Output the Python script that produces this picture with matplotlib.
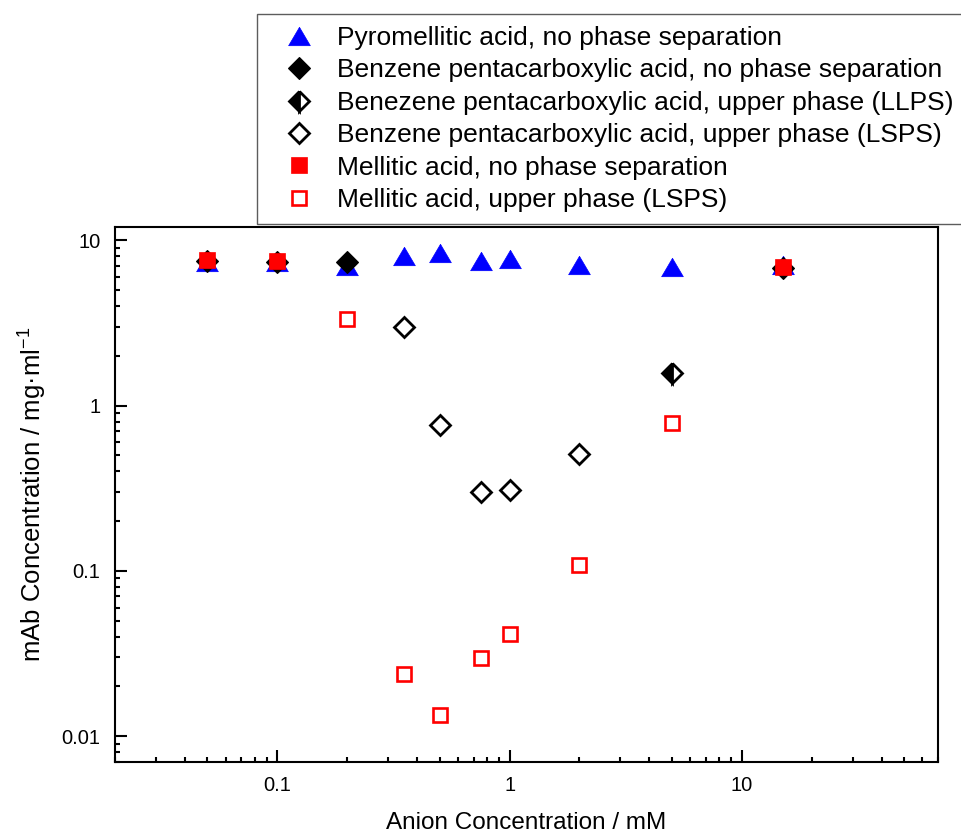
import matplotlib.pyplot as plt

plt.rcParams["font.family"] = ["Liberation Sans", "DejaVu Sans"]
plt.rcParams["mathtext.fontset"] = "custom"
plt.rcParams["mathtext.rm"] = "Liberation Sans"

# anion concentration (mM) and mAb concentration (mg/ml) per series
pyro_x = [0.05, 0.1, 0.2, 0.35, 0.5, 0.75, 1, 2, 5, 15]
pyro_y = [7.4, 7.4, 7.0, 8.1, 8.35, 7.5, 7.7, 7.06, 6.9, 7.1]

penta_none_x = [0.05, 0.1, 0.2, 15]
penta_none_y = [7.5, 7.45, 7.45, 6.8]

penta_llps_x = [5]
penta_llps_y = [1.58]

penta_lsps_x = [0.35, 0.5, 0.75, 1, 2]
penta_lsps_y = [3.01, 0.76, 0.30, 0.31, 0.507]

mell_none_x = [0.05, 0.1, 15]
mell_none_y = [7.6, 7.5, 6.95]

mell_lsps_x = [0.2, 0.35, 0.5, 0.75, 1, 2, 5]
mell_lsps_y = [3.33, 0.0239, 0.0135, 0.0295, 0.0412, 0.108, 0.79]

labels = [
    "Pyromellitic acid, no phase separation",
    "Benzene pentacarboxylic acid, no phase separation",
    "Benezene pentacarboxylic acid, upper phase (LLPS)",
    "Benzene pentacarboxylic acid, upper phase (LSPS)",
    "Mellitic acid, no phase separation",
    "Mellitic acid, upper phase (LSPS)",
]

# a slightly squat up-triangle
tri = [(-1, -0.85), (1, -0.85), (0, 0.85), (-1, -0.85)]

fig = plt.figure(figsize=(9.61, 8.36), dpi=100)
ax = fig.add_axes([0.1197, 0.0889, 0.8564, 0.6392])

h1, = ax.plot(pyro_x, pyro_y, ls="none", marker=tri, ms=15.6,
              color="#0000ff", mec="#0000ff", mew=0.5, label=labels[0])
h2, = ax.plot(penta_none_x, penta_none_y, ls="none", marker="D", ms=11.5,
              color="black", mec="black", mew=0.8, label=labels[1])
h3, = ax.plot(penta_llps_x, penta_llps_y, ls="none", marker="D", ms=10.5,
              fillstyle="left", mfc="black", mfcalt="white", mec="black",
              mew=2, label=labels[2])
h4, = ax.plot(penta_lsps_x, penta_lsps_y, ls="none", marker="D", ms=10.5,
              mfc="white", mec="black", mew=2, label=labels[3])
h5, = ax.plot(mell_none_x, mell_none_y, ls="none", marker="s", ms=11.5,
              color="#ff0000", mec="#ff0000", mew=0.5, label=labels[4])
h6, = ax.plot(mell_lsps_x, mell_lsps_y, ls="none", marker="s", ms=9.4,
              mfc="white", mec="#ff0000", mew=1.9, label=labels[5])

ax.set_xscale("log")
ax.set_yscale("log")
ax.set_xlim(0.02, 70)
ax.set_ylim(0.007, 12)

ax.set_xticks([0.1, 1, 10])
ax.set_xticklabels(["0.1", "1", "10"])
ax.set_yticks([0.01, 0.1, 1, 10])
ax.set_yticklabels(["0.01", "0.1", "1", "10"])

for s in ax.spines.values():
    s.set_linewidth(1.5)
ax.tick_params(which="major", direction="in", length=8.6, width=1.5,
               labelsize=14.5, pad=10.5)
ax.tick_params(which="minor", direction="in", length=3.6, width=1.5)
ax.tick_params(which="both", top=False, right=False)

ax.set_xlabel("Anion Concentration / mM", fontsize=17.5, labelpad=12)
ax.set_ylabel(r"mAb Concentration / mg·ml$^{\mathregular{-1}}$",
              fontsize=18.5, labelpad=10)

leg = fig.legend(handles=[h1, h2, h3, h4, h5, h6], loc="upper left",
                 bbox_to_anchor=(257 / 961, 1 - 14 / 836),
                 bbox_transform=fig.transFigure, fontsize=19,
                 frameon=True, fancybox=False, borderpad=0.45,
                 handlelength=2.3, handletextpad=0.29, labelspacing=0.32,
                 borderaxespad=0)
leg.get_frame().set_edgecolor("#333333")
leg.get_frame().set_linewidth(1.0)

fig.savefig("out.png", dpi=100)
